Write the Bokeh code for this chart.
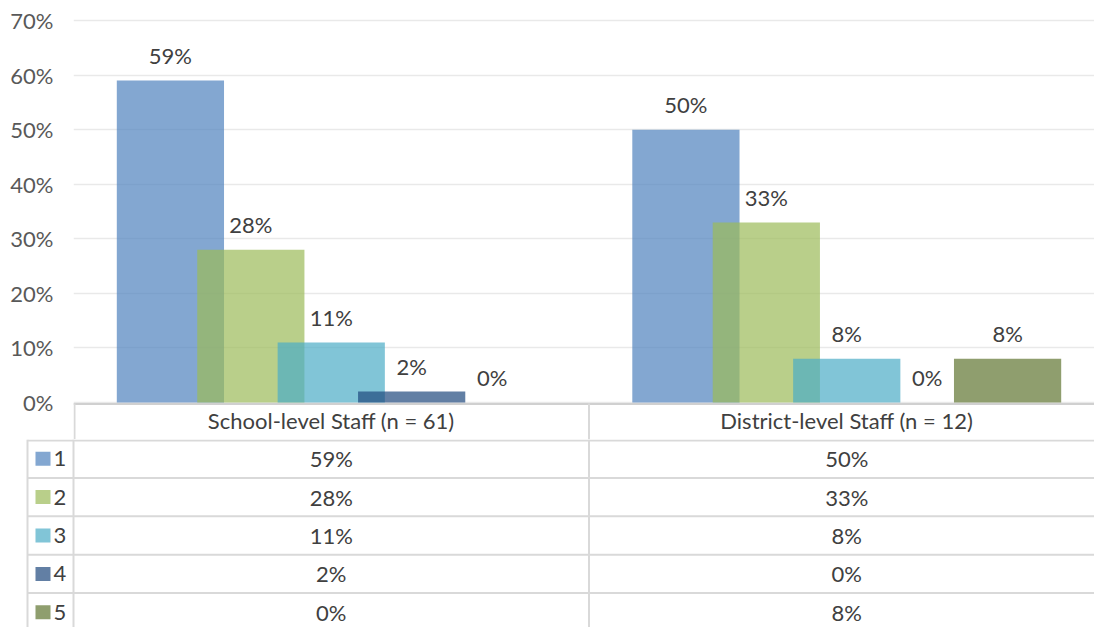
import numpy as np
from bokeh.plotting import figure
from bokeh.layouts import column
from bokeh.models import Range1d, FixedTicker, PrintfTickFormatter, ColumnDataSource
from bokeh.core.properties import value
from bokeh.embed import file_html
from bokeh.resources import INLINE

# ---- data ----
categories = ["School-level Staff (n = 61)", "District-level Staff (n = 12)"]
series_names = ["1", "2", "3", "4", "5"]
s1 = [59, 50]
s2 = [28, 33]
s3 = [11, 8]
s4 = [2, 0]
s5 = [0, 8]
series_values = [s1, s2, s3, s4, s5]
colors = ["#4F81BD", "#9BBB59", "#4BACC6", "#1F497D", "#5F7530"]
y_ticks = [0, 10, 20, 30, 40, 50, 60, 70]

FONT = "Lato"
FS = "22px"
TXT = "#404040"
LINE = "#D9D9D9"
W = 1094
PXU = 515.5            # pixels per category unit
LEFT = 73              # frame left border of chart
x_start = -0.5
x_end = x_start + (W - LEFT) / PXU
tbl_start = x_start - LEFT / PXU

offsets = [-0.312, -0.156, 0.0, 0.156, 0.312]
bar_w = 0.208

# ---- chart (includes the table header row) ----
H1 = 439
Y0 = 402               # page y of the zero line
pxy = 382 / 70.0
y_lo = -(H1 - Y0) / pxy
p = figure(width=W, height=H1, output_backend="svg", toolbar_location=None,
           x_range=Range1d(x_start, x_end),
           y_range=Range1d(y_lo, y_lo + H1 / pxy),
           min_border_left=LEFT, min_border_right=0, min_border_top=0, min_border_bottom=0)
p.frame_align = False
p.outline_line_color = None
p.xaxis.visible = False
p.xgrid.visible = False
p.ygrid.grid_line_color = "#E9E9E9"
p.ygrid.grid_line_width = 1.5
p.yaxis.ticker = FixedTicker(ticks=y_ticks)
p.yaxis.formatter = PrintfTickFormatter(format="%d%%")
p.yaxis.axis_line_color = None
p.yaxis.major_tick_line_color = None
p.yaxis.major_tick_in = 0
p.yaxis.major_tick_out = 0
p.yaxis.minor_tick_line_color = None
p.yaxis.major_label_text_font = FONT
p.yaxis.major_label_text_font_size = FS
p.yaxis.major_label_text_color = "#595959"
p.yaxis.major_label_standoff = 20

def yd(py):
    return (Y0 - py) / pxy

cat_idx = np.arange(len(categories))
for i, (name, vals) in enumerate(zip(series_names, series_values)):
    src = ColumnDataSource(dict(x=cat_idx + offsets[i], top=vals,
                                lbl=[f"{v}%" for v in vals]))
    p.vbar(x="x", top="top", width=bar_w, bottom=0, source=src,
           fill_color=colors[i], fill_alpha=0.7, line_color=None)
    p.text(x="x", y="top", text="lbl", source=src, text_align="center",
           text_baseline="middle", y_offset=-25, text_font=value(FONT),
           text_font_size=FS, text_color=TXT)

# header row of the data table
p.segment(x0=[x_start], x1=[x_end], y0=[yd(403.5)], y1=[yd(403.5)], line_color="#D0D0D0", line_width=2)
p.segment(x0=[x_start + 1 / PXU, 0.5], x1=[x_start + 1 / PXU, 0.5],
          y0=[yd(403)] * 2, y1=[yd(H1 + 2)] * 2, line_color=LINE, line_width=2)
p.text(x=cat_idx, y=[yd(420)] * len(categories), text=categories, text_align="center",
       text_baseline="middle", text_font=value(FONT), text_font_size=FS, text_color=TXT)

# ---- data table rows ----
H2 = 627 - H1
t = figure(width=W, height=H2, output_backend="svg", toolbar_location=None,
           x_range=Range1d(tbl_start, x_end), y_range=Range1d(H2, 0),
           x_axis_type=None, y_axis_type=None,
           min_border_left=0, min_border_right=0, min_border_top=0, min_border_bottom=0)
t.frame_align = False
t.outline_line_color = None
t.xgrid.visible = False
t.ygrid.visible = False

def px2x(px):
    return tbl_start + px / PXU

row_h = 38.4
ys = [1] + [k * row_h for k in range(1, len(series_names) + 1)]
t.segment(x0=[px2x(27)] * len(ys), x1=[x_end] * len(ys), y0=ys, y1=ys,
          line_color=LINE, line_width=2)
t.segment(x0=[px2x(27), x_start, 0.5], x1=[px2x(27), x_start, 0.5],
          y0=[0, 0, 0], y1=[H2, H2, H2], line_color=LINE, line_width=2)
for i, (name, vals) in enumerate(zip(series_names, series_values)):
    yc = (i + 0.5) * row_h
    t.rect(x=[px2x(42.5)], y=[yc], width=15, height=14, width_units="screen", height_units="screen",
           fill_color=colors[i], fill_alpha=0.7, line_color=None)
    t.text(x=[px2x(53)], y=[yc], text=[name], text_align="left", text_baseline="middle",
           text_font=value(FONT), text_font_size=FS, text_color=TXT)
    t.text(x=cat_idx, y=[yc] * len(vals), text=[f"{v}%" for v in vals], text_align="center",
           text_baseline="middle", text_font=value(FONT), text_font_size=FS, text_color=TXT)

layout = column(p, t)
open("out.html", "w").write(file_html(layout, INLINE))
